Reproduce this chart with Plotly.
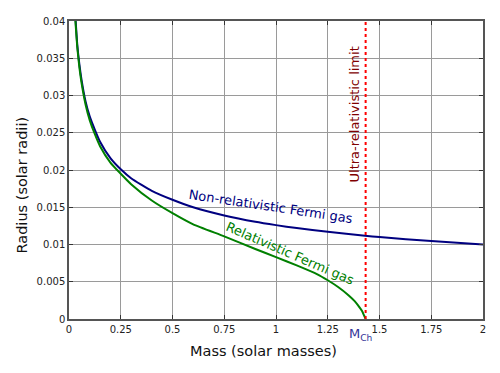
import plotly.graph_objects as go

# Non-relativistic Fermi gas (navy)
mass_nr = [0.031, 0.04, 0.05, 0.06, 0.08, 0.10, 0.125, 0.15, 0.2, 0.25, 0.3, 0.4, 0.5,
           0.6, 0.75, 0.9, 1.0, 1.1, 1.25, 1.43, 1.5, 1.75, 2.0]
radius_nr = [0.0405, 0.0368, 0.0342, 0.0322, 0.0292, 0.0272, 0.0254, 0.0238, 0.0216,
             0.0201, 0.0189, 0.0172, 0.0160, 0.0150, 0.0139, 0.01305, 0.0126, 0.0122,
             0.0117, 0.01118, 0.0110, 0.01046, 0.0100]

# Relativistic Fermi gas (green)
mass_r = [0.03, 0.04, 0.05, 0.06, 0.08, 0.10, 0.125, 0.15, 0.2, 0.25, 0.3, 0.4, 0.5,
          0.6, 0.75, 0.9, 1.0, 1.1, 1.2, 1.25, 1.3, 1.35, 1.38, 1.40, 1.415, 1.425, 1.433]
radius_r = [0.0404, 0.0365, 0.0338, 0.0318, 0.0288, 0.0267, 0.0248, 0.0232, 0.0210,
            0.0195, 0.0181, 0.0159, 0.0142, 0.0127, 0.0111, 0.0094, 0.0083, 0.0072,
            0.0060, 0.0052, 0.0043, 0.0032, 0.0024, 0.0017, 0.0011, 0.0005, 0.0]

m_ch = 1.433
x_ticks = [0, 0.25, 0.5, 0.75, 1, 1.25, 1.5, 1.75, 2]
x_tick_labels = ["0", "0.25", "0.5", "0.75", "1", "1.25", "1.5", "1.75", "2"]
y_ticks = [0, 0.005, 0.01, 0.015, 0.02, 0.025, 0.03, 0.035, 0.04]
y_tick_labels = ["0", "0.005", "0.01", "0.015", "0.02", "0.025", "0.03", "0.035", "0.04"]

FONT = "DejaVu Sans"

fig = go.Figure()
fig.add_trace(go.Scatter(x=mass_nr, y=radius_nr, mode="lines",
                         line=dict(color="#000080", width=2, shape="spline", smoothing=0.5),
                         showlegend=False, hoverinfo="skip"))
fig.add_trace(go.Scatter(x=mass_r, y=radius_r, mode="lines",
                         line=dict(color="#008000", width=2, shape="spline", smoothing=0.5),
                         showlegend=False, hoverinfo="skip"))
fig.add_trace(go.Scatter(x=[m_ch, m_ch], y=[0, 0.04], mode="lines",
                         line=dict(color="#ff0000", width=2, dash="dot"),
                         showlegend=False, hoverinfo="skip"))

fig.add_annotation(x=0.975, y=0.0151, text="Non-relativistic Fermi gas", showarrow=False,
                   textangle=8.5, font=dict(family=FONT, size=13, color="#000080"))
fig.add_annotation(x=1.07, y=0.0088, text="Relativistic Fermi gas", showarrow=False,
                   textangle=23.5, font=dict(family=FONT, size=13, color="#008000"))
fig.add_annotation(x=m_ch, xshift=-11, y=0.0274, text="Ultra-relativistic limit", showarrow=False,
                   textangle=-90, font=dict(family=FONT, size=13, color="#800000"))
fig.add_annotation(x=m_ch, xshift=-5, y=0, yshift=-15, text="M<sub>Ch</sub>", showarrow=False,
                   yanchor="middle", font=dict(family=FONT, size=13, color="#333399"))

# axis titles (placed as annotations to match the reference offsets)
fig.add_annotation(xref="paper", yref="paper", x=0.4686, y=0, yshift=-32,
                   text="Mass (solar masses)", showarrow=False, yanchor="middle",
                   font=dict(family=FONT, size=14.5, color="#111111"))
fig.add_annotation(xref="paper", yref="paper", x=0, xshift=-47, y=0.448,
                   text="Radius (solar radii)", showarrow=False, textangle=-90,
                   xanchor="center", font=dict(family=FONT, size=14.5, color="#111111"))

axis_common = dict(showgrid=True, gridcolor="#9a9a9a", gridwidth=1,
                   showline=True, linecolor="#555555", linewidth=1.5, mirror="ticks",
                   ticks="inside", ticklen=4, tickcolor="#333333", zeroline=False,
                   tickfont=dict(family=FONT, size=10, color="#222222"))

fig.update_xaxes(range=[0, 2], tickvals=x_ticks, ticktext=x_tick_labels, **axis_common)
fig.update_yaxes(range=[0, 0.04], tickvals=y_ticks, ticktext=y_tick_labels, **axis_common)

# page body has an 8px margin, so the figure is sized/offset to compensate
fig.update_layout(width=492, height=365, margin=dict(l=61, r=17, t=7, b=54),
                  paper_bgcolor="white", plot_bgcolor="white",
                  font=dict(family=FONT))

fig.write_html("out.html")
